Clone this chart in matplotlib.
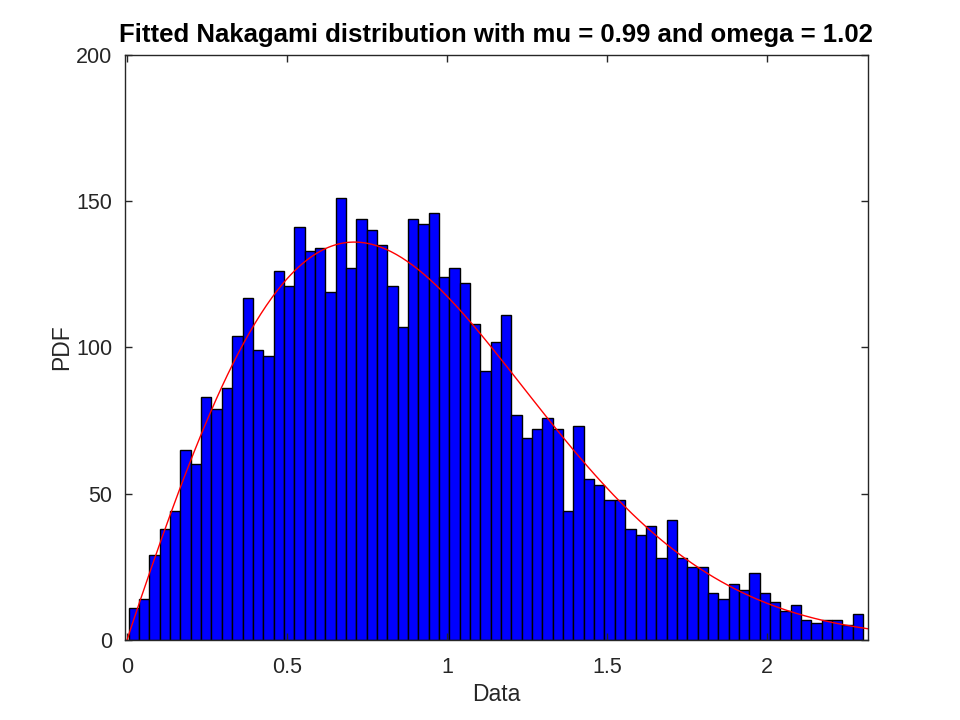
import numpy as np
import matplotlib.pyplot as plt
from math import gamma

plt.rcParams['font.family'] = ['Liberation Sans', 'DejaVu Sans']

# histogram counts (71 bins)
counts = [11, 14, 29, 38, 44, 65, 60, 83, 79, 86,
          104, 117, 99, 97, 126, 121, 141, 133, 134, 119,
          151, 127, 144, 140, 135, 121, 107, 144, 142, 146,
          124, 127, 122, 108, 92, 102, 111, 77, 69, 72,
          76, 72, 44, 73, 55, 53, 48, 48, 38, 36,
          39, 28, 41, 28, 25, 25, 16, 14, 19, 17,
          23, 16, 13, 10, 12, 7, 6, 7, 7, 5, 9]
data_min = 0.0053
data_max = 2.301

# fitted parameters (from the title)
mu = 0.99
omega = 1.02

xticks = [0, 0.5, 1, 1.5, 2]
xticklabels = ['0', '0.5', '1', '1.5', '2']
yticks = [0, 50, 100, 150, 200]

counts = np.array(counts)
nbins = len(counts)
bw = (data_max - data_min) / nbins
edges = data_min + bw * np.arange(nbins)

xs = np.linspace(0, 2.316, 400)
pdf = 2 * mu**mu / (gamma(mu) * omega**mu) * xs**(2 * mu - 1) * np.exp(-mu * xs**2 / omega)
fit = pdf * counts.sum() * bw

fig = plt.figure(figsize=(9.6, 7.2), dpi=100)
ax = fig.add_axes([0.13, 0.111, 0.774, 0.813])
ax.bar(edges, counts, width=bw, align='edge', color='#0000ff', edgecolor='black', linewidth=1.0)
ax.plot(xs, fit, color='#ff0000', linewidth=1.0)

ax.set_xlim(-0.007, 2.316)
ax.set_ylim(0, 200)
ax.set_xticks(xticks)
ax.set_xticklabels(xticklabels)
ax.set_yticks(yticks)

dark = '#262626'
for sp in ax.spines.values():
    sp.set_color(dark)
    sp.set_linewidth(1.0)
ax.tick_params(direction='in', length=5, width=1, colors=dark, labelsize=15.5,
               top=True, right=True)
ax.tick_params(axis='x', pad=12)
ax.tick_params(axis='y', pad=9)

ax.set_xlabel('Data', fontsize=16.5, color=dark, labelpad=4)
ax.set_ylabel('PDF', fontsize=16.5, color=dark, labelpad=2)
ax.set_title('Fitted Nakagami distribution with mu = 0.99 and omega = 1.02',
             fontsize=18.5, fontweight='bold', pad=9.5)

plt.savefig('out.png', dpi=100)
